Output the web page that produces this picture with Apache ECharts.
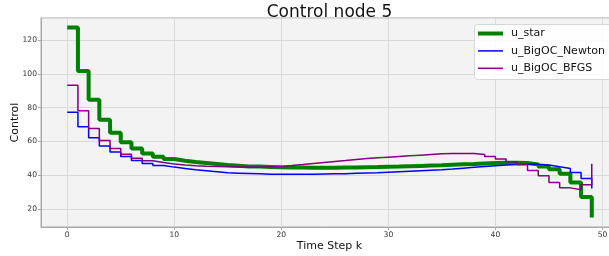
<!DOCTYPE html>
<html>
<head>
<meta charset="utf-8">
<script src="https://cdn.jsdelivr.net/npm/echarts@6/dist/echarts.min.js"></script>
<style>
  html, body { margin: 0; padding: 0; background: #fff; }
  #chart { width: 609px; height: 256px; }
</style>
</head>
<body>
<div id="chart"></div>
<script>
// time steps 0..49
const steps = Array.from({ length: 50 }, (_, i) => i)

// values
const uStar = [
  127.5, 101.7, 84.6, 72.8, 65.0, 59.5, 55.7, 52.8, 50.8, 49.5,
  48.5, 47.7, 47.1, 46.5, 45.9, 45.5, 45.1, 45.0, 44.8, 44.6,
  44.5, 44.4, 44.3, 44.3, 44.3, 44.4, 44.5, 44.6, 44.7, 44.9,
  45.0, 45.2, 45.4, 45.6, 45.8, 46.1, 46.4, 46.6, 46.9, 47.1,
  47.3, 47.3, 47.1, 46.3, 45.1, 43.5, 40.7, 35.6, 27.0, 14.8
]
const uNewton = [
  77.3, 68.6, 62.1, 57.2, 53.6, 51.0, 48.6, 46.9, 45.7, 44.7,
  43.9, 43.1, 42.5, 41.9, 41.3, 41.1, 40.9, 40.7, 40.5, 40.5,
  40.4, 40.4, 40.5, 40.6, 40.7, 40.8, 41.0, 41.2, 41.4, 41.7,
  42.0, 42.3, 42.6, 42.9, 43.2, 43.6, 44.1, 44.6, 45.1, 45.5,
  45.9, 46.2, 46.4, 46.4, 45.9, 44.9, 43.9, 41.5, 38.0, 32.0
]
const uBfgs = [
  93.3, 78.1, 67.6, 60.5, 55.7, 52.4, 50.0, 48.5, 47.4, 46.6,
  46.0, 45.5, 45.2, 45.0, 44.9, 44.8, 44.8, 44.8, 44.9, 45.1,
  45.6, 46.2, 46.9, 47.5, 48.1, 48.6, 49.2, 49.8, 50.2, 50.6,
  51.0, 51.4, 51.8, 52.2, 52.6, 52.8, 52.8, 52.7, 52.2, 51.0,
  49.5, 47.9, 46.1, 42.7, 39.6, 35.6, 32.4, 31.3, 34.2, 46.7
]

const xTickLabels = [0, 10, 20, 30, 40, 50]
const yTickLabels = [20, 40, 60, 80, 100, 120]

const pairs = (vals) => steps.map((k, i) => [k, vals[i]])

const chart = echarts.init(document.getElementById('chart'), null, { renderer: 'canvas' })

const font = 'DejaVu Sans'

// legend handles: flat bars, thickness like the line widths
const lineIcon = (h) => 'path://M0,0 L50,0 L50,' + h + ' L0,' + h + ' Z'

const option = {
  backgroundColor: '#ffffff',
  animation: false,
  title: {
    text: 'Control node 5',
    left: 324.5,
    textAlign: 'center',
    top: -1,
    textStyle: { fontFamily: font, fontSize: 17, fontWeight: 'normal', color: '#111' }
  },
  // legend frame, runs past the right edge like the original
  graphic: [{
    type: 'rect',
    z: 90,
    shape: { x: 474.5, y: 24.5, width: 170, height: 55, r: 3 },
    style: { fill: 'rgba(255,255,255,0.85)', stroke: '#d6d6d6', lineWidth: 1 }
  }],
  legend: {
    orient: 'vertical',
    left: 474,
    top: 24,
    z: 100,
    padding: [4, 4, 5, 4],
    itemWidth: 25,
    itemHeight: 11,
    itemGap: 6.4,
    backgroundColor: 'transparent',
    borderWidth: 0,
    textStyle: { fontFamily: font, fontSize: 11, color: '#111', padding: [0, 0, 0, 3] },
    data: [
      { name: 'u_star', icon: lineIcon(8) },
      { name: 'u_BigOC_Newton', icon: lineIcon(3) },
      { name: 'u_BigOC_BFGS', icon: lineIcon(3) }
    ]
  },
  grid: {
    left: 41,
    top: 18,
    bottom: 29,
    right: -9,
    outerBoundsMode: 'none',
    containLabel: false,
    show: true,
    backgroundColor: '#f3f3f3',
    borderColor: '#a8a8a8',
    borderWidth: 1
  },
  xAxis: {
    type: 'value',
    min: -2.45,
    max: 51.45,
    splitNumber: 5,
    name: 'Time Step k',
    nameLocation: 'middle',
    nameGap: 14,
    nameMoveOverlap: false,
    nameTextStyle: { fontFamily: font, fontSize: 11, color: '#111' },
    axisLine: { show: true, onZero: false, lineStyle: { color: '#a8a8a8' } },
    axisTick: { show: true, length: 3, lineStyle: { color: '#a8a8a8' } },
    axisLabel: {
      fontFamily: font, fontSize: 7.6, color: '#333', margin: 4,
      showMinLabel: false, showMaxLabel: false,
      formatter: (v) => xTickLabels.includes(v) ? String(v) : ''
    },
    splitLine: { show: true, lineStyle: { color: '#dadada', width: 1 } }
  },
  yAxis: {
    type: 'value',
    min: 9.2,
    max: 133.1,
    splitNumber: 5,
    name: 'Control',
    nameLocation: 'middle',
    nameGap: 20,
    nameMoveOverlap: false,
    nameTextStyle: { fontFamily: font, fontSize: 11, color: '#111' },
    axisLine: { show: true, onZero: false, lineStyle: { color: '#a8a8a8' } },
    axisTick: { show: true, length: 3, lineStyle: { color: '#a8a8a8' } },
    axisLabel: {
      fontFamily: font, fontSize: 7.6, color: '#333', margin: 4,
      showMinLabel: false, showMaxLabel: false,
      formatter: (v) => yTickLabels.includes(v) ? String(v) : ''
    },
    splitLine: { show: true, lineStyle: { color: '#dadada', width: 1 } }
  },
  series: [
    {
      name: 'u_star', type: 'line', step: 'end', data: pairs(uStar),
      symbol: 'none', showSymbol: false,
      itemStyle: { color: '#008000' },
      lineStyle: { color: '#008000', width: 4 }
    },
    {
      name: 'u_BigOC_Newton', type: 'line', step: 'end', data: pairs(uNewton),
      symbol: 'none', showSymbol: false,
      itemStyle: { color: '#0000ff' },
      lineStyle: { color: '#0000ff', width: 1.5 }
    },
    {
      name: 'u_BigOC_BFGS', type: 'line', step: 'end', data: pairs(uBfgs),
      symbol: 'none', showSymbol: false,
      itemStyle: { color: '#800080' },
      lineStyle: { color: '#800080', width: 1.5 }
    }
  ]
}

chart.setOption(option)
</script>
</body>
</html>
